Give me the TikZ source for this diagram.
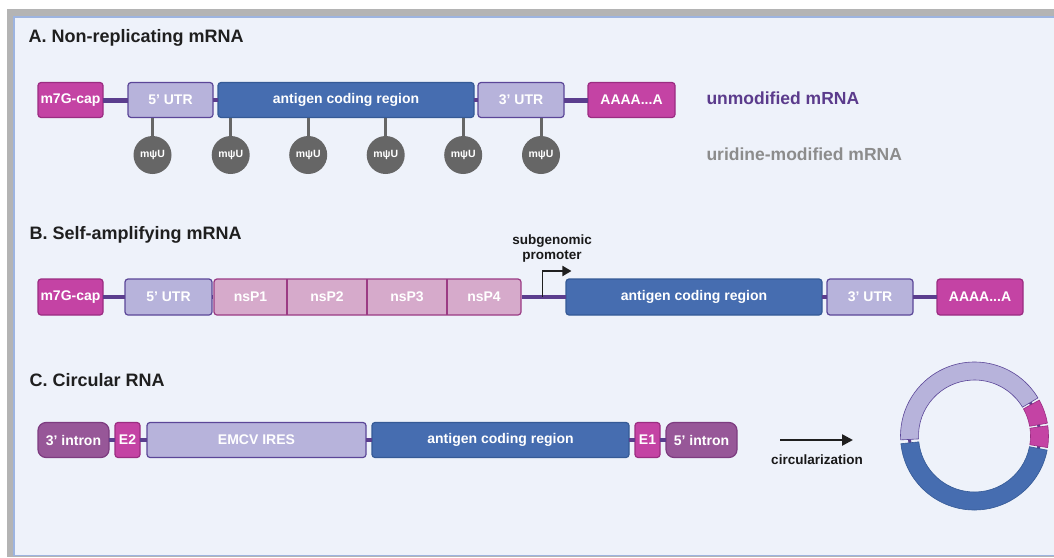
\documentclass[tikz,border=0pt]{standalone}
\usepackage{fontspec}
\setmainfont{Liberation Sans}
\usepackage{tikz}
\usetikzlibrary{positioning,fit,calc,arrows.meta}
\definecolor{panelfill}{HTML}{EEF2FA}
\definecolor{panelline}{HTML}{9DB4E0}
\definecolor{shadowgray}{HTML}{B4B4B4}
\definecolor{capfill}{HTML}{C443A4}
\definecolor{capline}{HTML}{9B2C82}
\definecolor{utrfill}{HTML}{B7B3DB}
\definecolor{utrline}{HTML}{5B4698}
\definecolor{orffill}{HTML}{466DB0}
\definecolor{orfline}{HTML}{355A96}
\definecolor{nspfill}{HTML}{D6AACB}
\definecolor{nspline}{HTML}{9B3B84}
\definecolor{intronfill}{HTML}{975798}
\definecolor{intronline}{HTML}{7D3C80}
\definecolor{backbone}{HTML}{5B3E8E}
\definecolor{modgray}{HTML}{666666}
\definecolor{unmodtext}{HTML}{5B3B8C}
\definecolor{modtext}{HTML}{8C8C8C}
\pgfdeclarelayer{frame}
\pgfdeclarelayer{bg}
\pgfsetlayers{frame,bg,main}

\begin{document}
\begin{tikzpicture}[
    x=1pt, y=-1pt,
    box/.style={rectangle, draw, rounded corners=3pt, line width=1.2pt, minimum height=35pt, inner sep=0pt, outer sep=0pt, text=white, font=\bfseries\fontsize{14}{16}\selectfont},
    capbox/.style={box, fill=capfill, draw=capline},
    utrbox/.style={box, fill=utrfill, draw=utrline},
    orfbox/.style={box, fill=orffill, draw=orfline},
    intronbox/.style={box, fill=intronfill, draw=intronline, rounded corners=8pt},
    nsplabel/.style={rectangle, minimum height=36pt, inner sep=0pt, outer sep=0pt, text=white, font=\bfseries\fontsize{14}{16}\selectfont},
    nspblock/.style={rectangle, draw=nspline, fill=nspfill, rounded corners=3pt, line width=1.2pt, inner sep=0pt},
    strand/.style={draw=backbone, line width=4pt},
    mod/.style={circle, fill=modgray, minimum size=38pt, inner sep=0pt, text=white, font=\bfseries\fontsize{10.5}{12}\selectfont},
    stem/.style={draw=modgray, line width=3pt},
    title/.style={anchor=west, text=black!88, font=\bfseries\fontsize{18}{21}\selectfont},
    legend/.style={anchor=west, font=\bfseries\fontsize{17.5}{20}\selectfont},
    lbl/.style={align=center, text=black!90, font=\bfseries\fontsize{13.5}{15}\selectfont, inner sep=0pt},
    arrow/.style={-{Triangle[length=11pt,width=11pt]}, line width=2.5pt, black!88}
]
    \useasboundingbox (0,0) rectangle (1054,557);
    \begin{pgfonlayer}{frame}
        \fill[white] (0,0) rectangle (1054,557);
        \fill[shadowgray] (7,9) rectangle (1060,557);
        \filldraw[fill=panelfill, draw=panelline, line width=1.5pt] (14,17) rectangle (1070,555.5);
    \end{pgfonlayer}

    % A
    \node[title] (titleA) at (25,38) {A. Non-replicating mRNA};
    \node[capbox, minimum width=65pt] (capA) at (70.5,100) {m7G-cap};
    \node[utrbox, minimum width=85pt, right=25pt of capA] (utr5A) {5' UTR};
    \node[orfbox, minimum width=256pt, right=5pt of utr5A] (agA) {antigen coding region};
    \node[utrbox, minimum width=86pt, right=4pt of agA] (utr3A) {3' UTR};
    \node[capbox, minimum width=87pt, right=24pt of utr3A] (polyA) {AAAA...A};
    \draw[strand, line width=5pt] (capA) -- (utr5A);
    \draw[strand] (utr5A) -- (agA);
    \draw[strand] (agA) -- (utr3A);
    \draw[strand, line width=5pt] (utr3A) -- (polyA);
    \foreach \i/\x in {1/152.5, 2/230.7, 3/308.2, 4/385.7, 5/463.2, 6/541}
        \node[mod] (mod\i) at (\x,155) {mψU};
    \foreach \i/\p in {1/utr5A, 2/agA, 3/agA, 4/agA, 5/agA, 6/utr3A}
        \draw[stem] (mod\i.north) -- (mod\i |- \p.south);
    \node[legend, text=unmodtext] (legUnmod) at (703,98) {unmodified mRNA};
    \node[legend, text=modtext] (legMod) at (703,154) {uridine-modified mRNA};

    % B
    \node[title] (titleB) at (26,235) {B. Self-amplifying mRNA};
    \node[capbox, minimum width=65pt, minimum height=36pt] (capB) at (70.5,297) {m7G-cap};
    \node[utrbox, minimum width=87pt, minimum height=36pt, right=22pt of capB] (utr5B) {5' UTR};
    \node[nsplabel, minimum width=73pt, right=2pt of utr5B] (nsP1) {nsP1};
    \node[nsplabel, minimum width=80pt, right=0pt of nsP1] (nsP2) {nsP2};
    \node[nsplabel, minimum width=80pt, right=0pt of nsP2] (nsP3) {nsP3};
    \node[nsplabel, minimum width=74pt, right=0pt of nsP3] (nsP4) {nsP4};
    \node[orfbox, minimum width=256pt, minimum height=36pt, right=45pt of nsP4] (agB) {antigen coding region};
    \node[utrbox, minimum width=86pt, minimum height=36pt, right=5pt of agB] (utr3B) {3' UTR};
    \node[capbox, minimum width=86pt, minimum height=36pt, right=24pt of utr3B] (polyB) {AAAA...A};
    \begin{pgfonlayer}{bg}
        \node[nspblock, fit=(nsP1)(nsP4)] (nsP) {};
    \end{pgfonlayer}
    \foreach \i in {1,2,3}
        \draw[draw=nspline, line width=1.2pt] (nsP\i.north east) -- (nsP\i.south east);
    \draw[strand] (capB) -- (utr5B);
    \draw[strand] (utr5B) -- (nsP);
    \draw[strand] (nsP) -- (agB);
    \draw[strand] (agB) -- (utr3B);
    \draw[strand] (utr3B) -- (polyB);
    \coordinate (prom) at ($(nsP.east)!0.47!(agB.west)$);
    \draw[-{Triangle[length=9pt,width=10pt]}, line width=1.8pt, black!88] (prom) |- ++(29,-26);
    \node[lbl] (promLbl) at (552,249) {subgenomic\\promoter};

    % C
    \node[title] (titleC) at (26,380) {C. Circular RNA};
    \node[intronbox, minimum width=71pt] (intron3) at (73.5,440) {3' intron};
    \node[capbox, minimum width=25pt, right=6pt of intron3] (e2) {E2};
    \node[utrbox, minimum width=219pt, right=7pt of e2] (ires) {EMCV IRES};
    \node[orfbox, minimum width=257pt, right=6pt of ires] (agC) {antigen coding region};
    \node[capbox, minimum width=25pt, right=6pt of agC] (e1) {E1};
    \node[intronbox, minimum width=71pt, right=6pt of e1] (intron5) {5' intron};
    \draw[strand] (intron3) -- (e2);
    \draw[strand] (e2) -- (ires);
    \draw[strand] (ires) -- (agC);
    \draw[strand] (agC) -- (e1);
    \draw[strand] (e1) -- (intron5);

    \coordinate (circS) at (780,440);
    \coordinate (circE) at (853,440);
    \draw[arrow] (circS) -- (circE);
    \node[lbl] (circLbl) at (817,460) {circularization};

    \coordinate (ring) at (974.5,436);
    \begin{scope}[shift={(ring)}, y=1pt]
        \draw[draw=backbone, line width=3pt] (0,0) circle (65pt);
        \foreach \a/\b/\f/\d in {31/183/utrfill/utrline, 186/349/orffill/orfline, 351/368/capfill/capline, 370/389/capfill/capline}
            \filldraw[fill=\f, draw=\d, line width=0.6pt] (\a:74pt) arc[start angle=\a, end angle=\b, radius=74pt] -- (\b:56pt) arc[start angle=\b, end angle=\a, radius=56pt] -- cycle;
    \end{scope}
\end{tikzpicture}
\end{document}
